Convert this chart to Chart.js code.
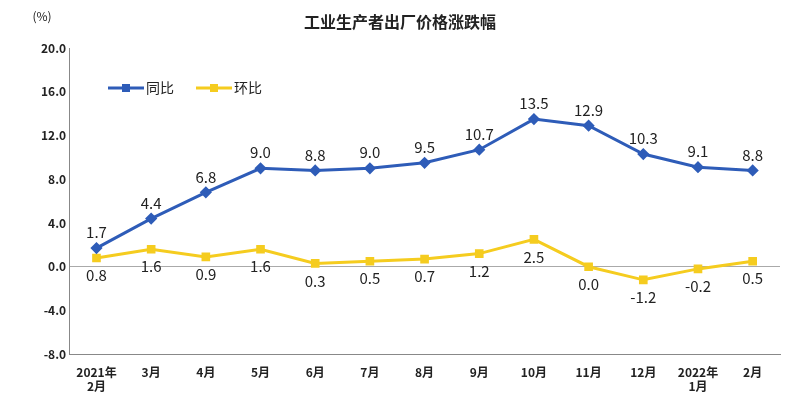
<!DOCTYPE html>
<html><head><meta charset="utf-8">
<script src="https://cdn.jsdelivr.net/npm/chart.js@4/dist/chart.umd.min.js"></script>
<style>body{margin:0;background:#fff}#wrap{width:800px;height:412px;position:relative}</style>
</head><body><div id="wrap"><canvas id="c"></canvas></div>
<script>
const categories = [["2021年","2月"],"3月","4月","5月","6月","7月","8月","9月","10月","11月","12月",["2022年","1月"],"2月"];
const yoy = [1.7,4.4,6.8,9.0,8.8,9.0,9.5,10.7,13.5,12.9,10.3,9.1,8.8];
const mom = [0.8,1.6,0.9,1.6,0.3,0.5,0.7,1.2,2.5,0.0,-1.2,-0.2,0.5];
const font = "'Noto Sans CJK SC', 'DejaVu Sans', sans-serif";

const extras = {
  id: "extras",
  afterDatasetsDraw(chart) {
    const ctx = chart.ctx;
    ctx.save();
    ctx.font = "15px " + font;
    ctx.fillStyle = "#222";
    ctx.textAlign = "center";
    [0, 1].forEach(i => {
      const meta = chart.getDatasetMeta(i);
      meta.data.forEach((p, j) => {
        const v = chart.data.datasets[i].data[j];
        ctx.textBaseline = i === 0 ? "bottom" : "top";
        ctx.fillText(v.toFixed(1), p.x, i === 0 ? p.y - 8 : p.y + 10);
      });
    });
    // title and unit
    ctx.font = "bold 16px " + font;
    ctx.textBaseline = "middle";
    ctx.fillText("工业生产者出厂价格涨跌幅", 400, 22);
    ctx.font = "12px " + font;
    ctx.fillText("(%)", 42, 16);
    // legend
    const items = [["同比", "#2e5cb8"], ["环比", "#f5cc1f"]];
    let x = 108;
    items.forEach(([t, c]) => {
      ctx.strokeStyle = c; ctx.lineWidth = 3;
      ctx.beginPath(); ctx.moveTo(x, 88); ctx.lineTo(x + 36, 88); ctx.stroke();
      ctx.fillStyle = c;
      ctx.fillRect(x + 14, 84, 8, 8);
      ctx.fillStyle = "#222"; ctx.textAlign = "left"; ctx.font = "14px " + font;
      ctx.fillText(t, x + 38, 88);
      x += 88;
    });
    ctx.restore();
  }
};

new Chart(document.getElementById("c"), {
  type: "line",
  data: {
    labels: categories,
    datasets: [
      { label: "同比", data: yoy, borderColor: "#2e5cb8", backgroundColor: "#2e5cb8", borderWidth: 3, pointStyle: "rectRot", pointRadius: 4, tension: 0 },
      { label: "环比", data: mom, borderColor: "#f5cc1f", backgroundColor: "#f5cc1f", borderWidth: 3, pointStyle: "rect", pointRadius: 4, tension: 0 }
    ]
  },
  options: {
    responsive: true, maintainAspectRatio: false, animation: false,
    layout: { padding: { top: 48, right: 20, left: 38, bottom: 15 } },
    plugins: { legend: { display: false }, tooltip: { enabled: false } },
    scales: {
      x: {
        offset: true,
        grid: { display: false },
        border: { display: true, color: "#888" },
        ticks: { color: "#222", font: { size: 12, family: font, weight: "bold" }, maxRotation: 0, autoSkip: false }
      },
      y: {
        min: -8, max: 20,
        ticks: { stepSize: 4, color: "#222", callback: v => v.toFixed(1), font: { size: 12, family: font, weight: "bold" } },
        grid: { color: ctx => ctx.tick.value === 0 ? "#aaa" : "transparent", drawTicks: false },
        border: { display: true, color: "#888" }
      }
    }
  },
  plugins: [extras]
});
</script></body></html>
